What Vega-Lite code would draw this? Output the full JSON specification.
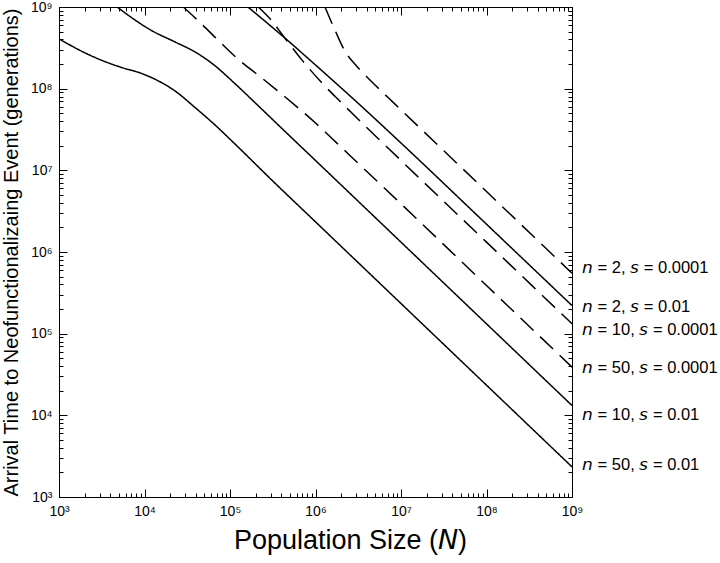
{
  "$schema": "https://vega.github.io/schema/vega-lite/v6.json",
  "width": 513,
  "height": 490,
  "autosize": {"type": "none"},
  "padding": {"left": 59, "top": 7, "right": 148, "bottom": 66},
  "background": "white",
  "config": {
    "view": {"stroke": "black", "strokeWidth": 1},
    "font": "Liberation Sans",
    "axis": {
      "domainColor": "black",
      "tickColor": "black",
      "tickWidth": 1,
      "labelColor": "black",
      "titleColor": "black",
      "grid": false,
      "zindex": 1,
      "labelFont": "Liberation Sans",
      "titleFont": "Liberation Sans",
      "titleFontWeight": "normal",
      "labelOverlap": false,
      "labelBound": false,
      "labelFlush": false
    }
  },
  "datasets": {
    "curves": [
      {"n": 50, "s": "0.01", "N": 1e3, "T": 4.07e8},
      {"n": 50, "s": "0.01", "N": 2.19e3, "T": 2.63e8},
      {"n": 50, "s": "0.01", "N": 3.47e3, "T": 2.14e8},
      {"n": 50, "s": "0.01", "N": 5.37e3, "T": 1.82e8},
      {"n": 50, "s": "0.01", "N": 9.33e3, "T": 1.53e8},
      {"n": 50, "s": "0.01", "N": 1.45e4, "T": 1.245e8},
      {"n": 50, "s": "0.01", "N": 2.29e4, "T": 9.33e7},
      {"n": 50, "s": "0.01", "N": 3.89e4, "T": 5.89e7},
      {"n": 50, "s": "0.01", "N": 6.76e4, "T": 3.55e7},
      {"n": 50, "s": "0.01", "N": 1.05e5, "T": 2.29e7},
      {"n": 50, "s": "0.01", "N": 3.16e5, "T": 7.41e6},
      {"n": 50, "s": "0.01", "N": 1e6, "T": 2.34e6},
      {"n": 50, "s": "0.01", "N": 1e7, "T": 2.34e5},
      {"n": 50, "s": "0.01", "N": 1e8, "T": 2.34e4},
      {"n": 50, "s": "0.01", "N": 1e9, "T": 2.34e3},

      {"n": 10, "s": "0.01", "N": 4.79e3, "T": 1e9},
      {"n": 10, "s": "0.01", "N": 7.76e3, "T": 6.92e8},
      {"n": 10, "s": "0.01", "N": 1.17e4, "T": 5.25e8},
      {"n": 10, "s": "0.01", "N": 2.29e4, "T": 3.72e8},
      {"n": 10, "s": "0.01", "N": 3.89e4, "T": 2.82e8},
      {"n": 10, "s": "0.01", "N": 6.31e4, "T": 2.0e8},
      {"n": 10, "s": "0.01", "N": 1.12e5, "T": 1.175e8},
      {"n": 10, "s": "0.01", "N": 2.0e5, "T": 6.61e7},
      {"n": 10, "s": "0.01", "N": 3.98e5, "T": 3.31e7},
      {"n": 10, "s": "0.01", "N": 1e6, "T": 1.32e7},
      {"n": 10, "s": "0.01", "N": 1e7, "T": 1.32e6},
      {"n": 10, "s": "0.01", "N": 1e8, "T": 1.32e5},
      {"n": 10, "s": "0.01", "N": 1e9, "T": 1.32e4},

      {"n": 50, "s": "0.0001", "N": 2.84e4, "T": 1e9},
      {"n": 50, "s": "0.0001", "N": 4.46e4, "T": 6.46e8},
      {"n": 50, "s": "0.0001", "N": 7.64e4, "T": 3.72e8},
      {"n": 50, "s": "0.0001", "N": 1.31e5, "T": 2.19e8},
      {"n": 50, "s": "0.0001", "N": 2.24e5, "T": 1.41e8},
      {"n": 50, "s": "0.0001", "N": 3.85e5, "T": 8.91e7},
      {"n": 50, "s": "0.0001", "N": 1e6, "T": 3.8e7},
      {"n": 50, "s": "0.0001", "N": 2.42e6, "T": 1.585e7},
      {"n": 50, "s": "0.0001", "N": 1e7, "T": 3.89e6},
      {"n": 50, "s": "0.0001", "N": 1e8, "T": 3.89e5},
      {"n": 50, "s": "0.0001", "N": 1e9, "T": 3.89e4},

      {"n": 10, "s": "0.0001", "N": 2.14e5, "T": 1e9},
      {"n": 10, "s": "0.0001", "N": 3.09e5, "T": 6.76e8},
      {"n": 10, "s": "0.0001", "N": 4.37e5, "T": 4.17e8},
      {"n": 10, "s": "0.0001", "N": 7.08e5, "T": 2.19e8},
      {"n": 10, "s": "0.0001", "N": 1.26e6, "T": 1.10e8},
      {"n": 10, "s": "0.0001", "N": 2.0e6, "T": 6.76e7},
      {"n": 10, "s": "0.0001", "N": 1e7, "T": 1.32e7},
      {"n": 10, "s": "0.0001", "N": 1e8, "T": 1.32e6},
      {"n": 10, "s": "0.0001", "N": 1e9, "T": 1.32e5},

      {"n": 2, "s": "0.01", "N": 1.62e5, "T": 1e9},
      {"n": 2, "s": "0.01", "N": 2.82e5, "T": 6.17e8},
      {"n": 2, "s": "0.01", "N": 4.79e5, "T": 3.85e8},
      {"n": 2, "s": "0.01", "N": 1e6, "T": 1.95e8},
      {"n": 2, "s": "0.01", "N": 3.16e6, "T": 6.61e7},
      {"n": 2, "s": "0.01", "N": 1e7, "T": 2.16e7},
      {"n": 2, "s": "0.01", "N": 1e8, "T": 2.19e6},
      {"n": 2, "s": "0.01", "N": 1e9, "T": 2.21e5},

      {"n": 2, "s": "0.0001", "N": 1.29e6, "T": 1e9},
      {"n": 2, "s": "0.0001", "N": 1.70e6, "T": 5.13e8},
      {"n": 2, "s": "0.0001", "N": 2.21e6, "T": 2.88e8},
      {"n": 2, "s": "0.0001", "N": 2.88e6, "T": 2.0e8},
      {"n": 2, "s": "0.0001", "N": 3.47e6, "T": 1.62e8},
      {"n": 2, "s": "0.0001", "N": 5.01e6, "T": 1.10e8},
      {"n": 2, "s": "0.0001", "N": 8.51e6, "T": 6.46e7},
      {"n": 2, "s": "0.0001", "N": 1.82e7, "T": 3.02e7},
      {"n": 2, "s": "0.0001", "N": 1e8, "T": 5.5e6},
      {"n": 2, "s": "0.0001", "N": 1e9, "T": 5.5e5}
    ],
    "labels": [
      {"N": 1e9, "T": 6.3e5, "label": "𝘯 = 2, 𝘴 = 0.0001"},
      {"N": 1e9, "T": 2.15e5, "label": "𝘯 = 2, 𝘴 = 0.01"},
      {"N": 1e9, "T": 1.12e5, "label": "𝘯 = 10, 𝘴 = 0.0001"},
      {"N": 1e9, "T": 3.76e4, "label": "𝘯 = 50, 𝘴 = 0.0001"},
      {"N": 1e9, "T": 1.0e4, "label": "𝘯 = 10, 𝘴 = 0.01"},
      {"N": 1e9, "T": 2.45e3, "label": "𝘯 = 50, 𝘴 = 0.01"}
    ]
  },
  "resolve": {"axis": {"x": "independent", "y": "independent"}},
  "layer": [
    {
      "data": {"name": "curves"},
      "mark": {"type": "line", "color": "black", "strokeWidth": 1.5, "interpolate": "monotone", "clip": true},
      "encoding": {
        "x": {
          "field": "N", "type": "quantitative",
          "scale": {"type": "log", "domain": [1e3, 1e9], "nice": false},
          "axis": {
            "orient": "bottom",
            "title": "Population Size (𝘕)",
            "titleFontSize": 27,
            "titlePadding": 5,
            "titleX": 291,
            "labelFontSize": 14,
            "labelPadding": 15,
            "values": [1e3,2e3,3e3,4e3,5e3,6e3,7e3,8e3,9e3,1e4,2e4,3e4,4e4,5e4,6e4,7e4,8e4,9e4,1e5,2e5,3e5,4e5,5e5,6e5,7e5,8e5,9e5,1e6,2e6,3e6,4e6,5e6,6e6,7e6,8e6,9e6,1e7,2e7,3e7,4e7,5e7,6e7,7e7,8e7,9e7,1e8,2e8,3e8,4e8,5e8,6e8,7e8,8e8,9e8,1e9],
            "labelExpr": "abs(log(datum.value)/LN10 - round(log(datum.value)/LN10)) < 1e-6 ? '10' + ['⁰','¹','²','³','⁴','⁵','⁶','⁷','⁸','⁹'][round(log(datum.value)/LN10)] : ''",
            "tickSize": {"condition": {"test": "abs(log(datum.value)/LN10 - round(log(datum.value)/LN10)) < 1e-6", "value": -8}, "value": -4}
          }
        },
        "y": {
          "field": "T", "type": "quantitative",
          "scale": {"type": "log", "domain": [1e3, 1e9], "nice": false},
          "axis": {
            "orient": "left",
            "title": "Arrival Time to Neofunctionalizaing Event (generations)",
            "titleFontSize": 20,
            "titlePadding": 9,
            "labelFontSize": 14,
            "labelPadding": 15,
            "values": [1e3,2e3,3e3,4e3,5e3,6e3,7e3,8e3,9e3,1e4,2e4,3e4,4e4,5e4,6e4,7e4,8e4,9e4,1e5,2e5,3e5,4e5,5e5,6e5,7e5,8e5,9e5,1e6,2e6,3e6,4e6,5e6,6e6,7e6,8e6,9e6,1e7,2e7,3e7,4e7,5e7,6e7,7e7,8e7,9e7,1e8,2e8,3e8,4e8,5e8,6e8,7e8,8e8,9e8,1e9],
            "labelExpr": "abs(log(datum.value)/LN10 - round(log(datum.value)/LN10)) < 1e-6 ? '10' + ['⁰','¹','²','³','⁴','⁵','⁶','⁷','⁸','⁹'][round(log(datum.value)/LN10)] : ''",
            "tickSize": {"condition": {"test": "abs(log(datum.value)/LN10 - round(log(datum.value)/LN10)) < 1e-6", "value": -8}, "value": -4}
          }
        },
        "detail": [{"field": "n"}, {"field": "s"}],
        "strokeDash": {
          "field": "s", "type": "nominal",
          "scale": {"domain": ["0.01", "0.0001"], "range": [[1, 0], [18, 9]]},
          "legend": null
        }
      }
    },
    {
      "data": {"name": "labels"},
      "mark": {"type": "text", "align": "left", "baseline": "middle", "dx": 10, "fontSize": 16.5, "font": "Liberation Sans", "color": "black"},
      "encoding": {
        "x": {
          "field": "N", "type": "quantitative",
          "scale": {"type": "log", "domain": [1e3, 1e9], "nice": false},
          "axis": {
            "orient": "top",
            "title": null,
            "labels": false,
            "domain": false,
            "values": [1e3,2e3,3e3,4e3,5e3,6e3,7e3,8e3,9e3,1e4,2e4,3e4,4e4,5e4,6e4,7e4,8e4,9e4,1e5,2e5,3e5,4e5,5e5,6e5,7e5,8e5,9e5,1e6,2e6,3e6,4e6,5e6,6e6,7e6,8e6,9e6,1e7,2e7,3e7,4e7,5e7,6e7,7e7,8e7,9e7,1e8,2e8,3e8,4e8,5e8,6e8,7e8,8e8,9e8,1e9],
            "tickSize": {"condition": {"test": "abs(log(datum.value)/LN10 - round(log(datum.value)/LN10)) < 1e-6", "value": -8}, "value": -4}
          }
        },
        "y": {
          "field": "T", "type": "quantitative",
          "scale": {"type": "log", "domain": [1e3, 1e9], "nice": false},
          "axis": {
            "orient": "right",
            "title": null,
            "labels": false,
            "domain": false,
            "values": [1e3,2e3,3e3,4e3,5e3,6e3,7e3,8e3,9e3,1e4,2e4,3e4,4e4,5e4,6e4,7e4,8e4,9e4,1e5,2e5,3e5,4e5,5e5,6e5,7e5,8e5,9e5,1e6,2e6,3e6,4e6,5e6,6e6,7e6,8e6,9e6,1e7,2e7,3e7,4e7,5e7,6e7,7e7,8e7,9e7,1e8,2e8,3e8,4e8,5e8,6e8,7e8,8e8,9e8,1e9],
            "tickSize": {"condition": {"test": "abs(log(datum.value)/LN10 - round(log(datum.value)/LN10)) < 1e-6", "value": -8}, "value": -4}
          }
        },
        "text": {"field": "label", "type": "nominal"}
      }
    }
  ]
}
